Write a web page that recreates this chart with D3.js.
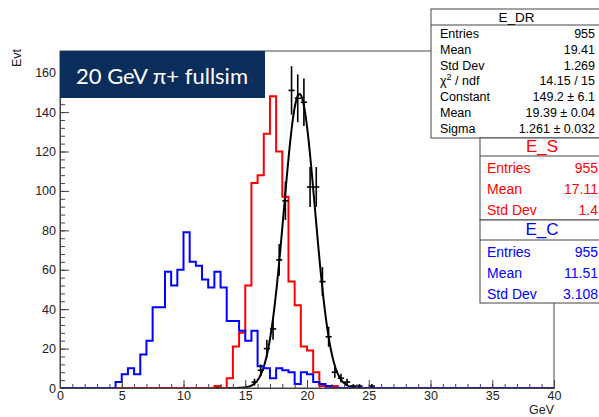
<!DOCTYPE html>
<html>
<head>
<meta charset="utf-8">
<script src="https://cdn.jsdelivr.net/npm/d3@7"></script>
<style>
  html, body { margin: 0; padding: 0; background: #fff; }
  svg { display: block; }
  text { font-family: "Liberation Sans", Arial, Helvetica, sans-serif; }
</style>
</head>
<body>
<script>
// ---- data (bin width 0.5 GeV, histogram range 0..40) ----
const binWidth = 0.5;
const xDomain = [0, 40];
const yDomain = [0, 171];
const xMajorTicks = [0, 5, 10, 15, 20, 25, 30, 35, 40];
const yMajorTicks = [0, 20, 40, 60, 80, 100, 120, 140, 160];

// E_C (blue), first listed bin starts at 4.5 GeV
const eCStart = 4.5;
const eCCounts = [3, 7, 10, 7, 17, 24, 41, 41, 59, 52, 60, 79, 64, 62, 55, 51, 59, 51,
                  34, 34, 29, 24, 29, 11, 10, 5, 10, 9, 8, 2, 8, 7, 3, 2, 1];

// E_S (red), first listed bin starts at 12.5 GeV
const eSStart = 12.5;
const eSCounts = [1, 0, 5, 21, 28, 52, 104, 108, 129, 148, 120, 97, 54, 42, 21, 19, 8, 1, 0, 1];

// E_DR (black points with errors), first listed bin starts at 15.5 GeV
const eDRStart = 15.5;
const eDRCounts = [3, 9, 20, 30, 65, 95, 151, 147, 145, 102, 102, 54, 26, 8, 5, 3, 1, 1, 0, 1];

// Gaussian fit to E_DR
const fitConstant = 149.2, fitMean = 19.39, fitSigma = 1.261;

// statistics boxes
const statDRLabels = ["Entries", "Mean", "Std Dev", "χ2 / ndf", "Constant", "Mean", "Sigma"];
const statDRValues = ["955", "19.41", "1.269", "14.15 / 15", "149.2 ± 6.1", "19.39 ± 0.04", "1.261 ± 0.032"];
const statSLabels = ["Entries", "Mean", "Std Dev"];
const statSValues = ["955", "17.11", "1.4"];
const statCLabels = ["Entries", "Mean", "Std Dev"];
const statCValues = ["955", "11.51", "3.108"];

const W = 599, H = 417;
const svg = d3.select("body").append("svg").attr("width", W).attr("height", H);
svg.append("rect").attr("width", W).attr("height", H).attr("fill", "#fff");

const x = d3.scaleLinear().domain(xDomain).range([60, 554]);
const y = d3.scaleLinear().domain(yDomain).range([388, 51]);

// expand a partial count list to the full set of bins
const nBins = Math.round((xDomain[1] - xDomain[0]) / binWidth);
function fullBins(start, counts) {
  const off = Math.round((start - xDomain[0]) / binWidth);
  return d3.range(nBins).map(i => {
    const j = i - off;
    return { lo: xDomain[0] + i * binWidth, c: (j >= 0 && j < counts.length) ? counts[j] : 0 };
  });
}

const stepLine = d3.line().x(d => x(d[0])).y(d => y(d[1])).curve(d3.curveStepAfter);
function histPath(bins) {
  const pts = bins.map(b => [b.lo, b.c]);
  pts.push([xDomain[1], bins[bins.length - 1].c]);
  return stepLine(pts);
}

const plot = svg.append("g");

// fit curve
const gauss = v => fitConstant * Math.exp(-0.5 * Math.pow((v - fitMean) / fitSigma, 2));
const fitPts = d3.range(xDomain[0], xDomain[1] + 0.001, 0.05).map(v => [v, gauss(v)]);
plot.append("path")
  .attr("d", d3.line().x(d => x(d[0])).y(d => y(d[1]))(fitPts))
  .attr("fill", "none").attr("stroke", "#000").attr("stroke-width", 2);

// E_S and E_C outlines
plot.append("path").attr("d", histPath(fullBins(eSStart, eSCounts)))
  .attr("fill", "none").attr("stroke", "#ff0000").attr("stroke-width", 2);
plot.append("path").attr("d", histPath(fullBins(eCStart, eCCounts)))
  .attr("fill", "none").attr("stroke", "#0000ff").attr("stroke-width", 2);

// E_DR error crosses
const drBins = eDRCounts.map((c, i) => ({ lo: eDRStart + i * binWidth, c })).filter(d => d.c > 0);
const pts = plot.append("g").attr("stroke", "#000").attr("stroke-width", 1.6);
pts.selectAll("line.h").data(drBins).join("line").attr("class", "h")
  .attr("x1", d => x(d.lo)).attr("x2", d => x(d.lo + binWidth))
  .attr("y1", d => y(d.c)).attr("y2", d => y(d.c));
pts.selectAll("line.v").data(drBins).join("line").attr("class", "v")
  .attr("x1", d => x(d.lo + binWidth / 2)).attr("x2", d => x(d.lo + binWidth / 2))
  .attr("y1", d => y(d.c - Math.sqrt(d.c))).attr("y2", d => y(d.c + Math.sqrt(d.c)));

// frame
svg.append("rect").attr("x", x(xDomain[0])).attr("y", y(yDomain[1]))
  .attr("width", x(xDomain[1]) - x(xDomain[0])).attr("height", y(yDomain[0]) - y(yDomain[1]))
  .attr("fill", "none").attr("stroke", "#444").attr("stroke-width", 1);

// axes
const axisColor = "#444";
function styleAxis(g) {
  g.select(".domain").attr("stroke", axisColor);
  g.selectAll(".tick line").attr("stroke", axisColor);
  g.selectAll("text").attr("fill", "#222").style("font-size", "12.5px")
    .style("font-family", "'Liberation Sans', Arial, sans-serif");
}
const gx = svg.append("g").attr("transform", `translate(0,${y(0)})`);
gx.call(d3.axisBottom(x).tickValues(d3.range(0, 41, 1)).tickSize(-4).tickFormat(""));
gx.call(g => g.selectAll(".tick text").remove());
const gx2 = svg.append("g").attr("transform", `translate(0,${y(0)})`)
  .call(d3.axisBottom(x).tickValues(xMajorTicks).tickSize(-8).tickPadding(3).tickFormat(d3.format("d")));
styleAxis(gx); styleAxis(gx2);

const gy = svg.append("g").attr("transform", `translate(${x(0)},0)`)
  .call(d3.axisLeft(y).tickValues(d3.range(0, 169, 4)).tickSize(-5).tickFormat(""));
const gy2 = svg.append("g").attr("transform", `translate(${x(0)},0)`)
  .call(d3.axisLeft(y).tickValues(yMajorTicks).tickSize(-9).tickPadding(5).tickFormat(d3.format("d")));
styleAxis(gy); styleAxis(gy2);
gy2.selectAll(".tick text").attr("x", -4);

// axis titles
svg.append("text").attr("transform", "translate(21,58) rotate(-90)")
  .attr("text-anchor", "middle").style("font-size", "12.5px").attr("fill", "#222").text("Evt");
svg.append("text").attr("x", x(40)).attr("y", 414).attr("text-anchor", "end")
  .style("font-size", "12.5px").attr("fill", "#222").text("GeV");

// title banner
svg.append("rect").attr("x", 60).attr("y", 51).attr("width", 205).attr("height", 47).attr("fill", "#0b2d5b");
svg.append("text").attr("x", 162).attr("y", 84).attr("text-anchor", "middle")
  .style("font-family", "Lato, 'Open Sans', sans-serif").style("font-size", "22px")
  .attr("fill", "#fff").text("20 GeV π+ fullsim");

// statistics boxes
function statBox(opts) {
  const g = svg.append("g");
  g.append("rect").attr("x", opts.x0).attr("y", opts.y0).attr("width", opts.x1 - opts.x0)
    .attr("height", opts.y1 - opts.y0).attr("fill", "#fff").attr("stroke", "#444").attr("stroke-width", 1);
  g.append("line").attr("x1", opts.x0).attr("x2", opts.x1).attr("y1", opts.titleBottom).attr("y2", opts.titleBottom)
    .attr("stroke", "#444");
  g.append("text").attr("x", (opts.x0 + opts.x1) / 2).attr("y", opts.titleBase).attr("text-anchor", "middle")
    .style("font-size", opts.titleSize).attr("fill", opts.color).text(opts.title);
  opts.labels.forEach((lab, i) => {
    const t = g.append("text").attr("x", opts.labelX).attr("y", opts.rowBase + i * opts.rowStep)
      .style("font-size", opts.rowSize).attr("fill", opts.color);
    if (lab.startsWith("χ2")) {
      t.append("tspan").text("χ");
      t.append("tspan").attr("dy", -5).style("font-size", "9px").text("2");
      t.append("tspan").attr("dy", 5).text(lab.slice(2));
    } else t.text(lab);
    g.append("text").attr("x", opts.valueX).attr("y", opts.rowBase + i * opts.rowStep).attr("text-anchor", "end")
      .style("font-size", opts.rowSize).attr("fill", opts.color).text(opts.values[i]);
  });
}
statBox({ x0: 431, x1: 602, y0: 9, y1: 138, titleBottom: 25, titleBase: 22, title: "E_DR", titleSize: "13.5px",
  color: "#000", labels: statDRLabels, values: statDRValues, labelX: 440, valueX: 595,
  rowBase: 38, rowStep: 15.8, rowSize: "12.5px" });
statBox({ x0: 480, x1: 604, y0: 138, y1: 220, titleBottom: 156, titleBase: 152, title: "E_S", titleSize: "17px",
  color: "#ff0000", labels: statSLabels, values: statSValues, labelX: 487, valueX: 598,
  rowBase: 173, rowStep: 20.8, rowSize: "14px" });
statBox({ x0: 480, x1: 604, y0: 220, y1: 303, titleBottom: 240, titleBase: 235, title: "E_C", titleSize: "17px",
  color: "#0000ff", labels: statCLabels, values: statCValues, labelX: 487, valueX: 598,
  rowBase: 257, rowStep: 20.8, rowSize: "14px" });
</script>
</body>
</html>
